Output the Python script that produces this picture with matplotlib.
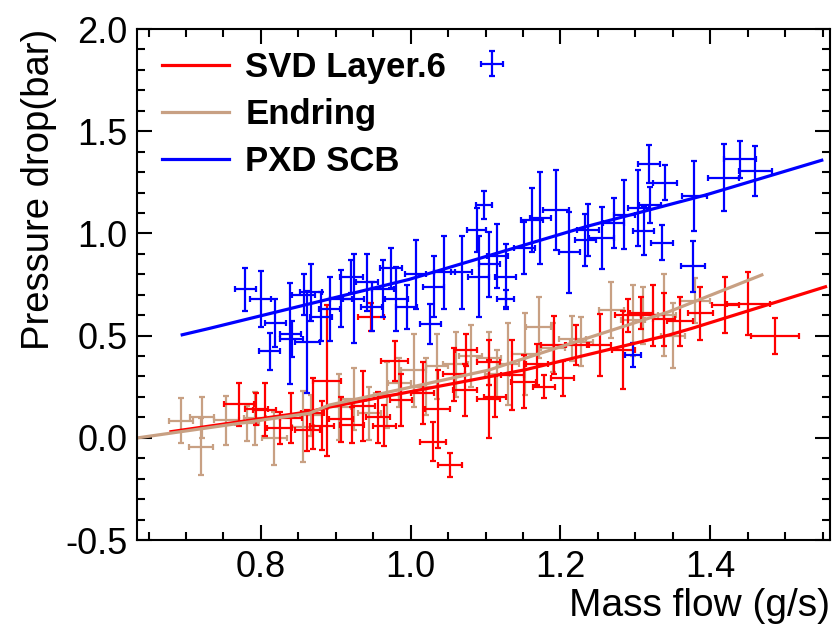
import matplotlib
matplotlib.use('Agg')
import matplotlib.pyplot as plt
from matplotlib.ticker import MultipleLocator
from matplotlib.legend_handler import HandlerErrorbar

plt.rcParams['font.family'] = ['Liberation Sans', 'DejaVu Sans']

# SVD Layer.6 (red)
svd_x = [0.771, 0.794, 0.805, 0.825, 0.840, 0.862, 0.869, 0.882, 0.888, 0.907,
         0.922, 0.937, 0.947, 0.956, 0.965, 0.979, 0.987, 1.016, 1.030, 1.036,
         1.053, 1.058, 1.072, 1.074, 1.104, 1.104, 1.113, 1.136, 1.151, 1.169,
         1.178, 1.191, 1.203, 1.221, 1.253, 1.284, 1.290, 1.308, 1.323, 1.338,
         1.360, 1.387, 1.420, 1.451, 1.487]
svd_y = [0.164, 0.140, 0.138, 0.048, 0.097, 0.037, 0.120, 0.060, 0.280, 0.090,
         0.063, 0.155, 0.592, 0.100, 0.060, 0.376, 0.185, 0.220, -0.019, 0.140,
         -0.133, 0.310, 0.235, 0.429, 0.190, 0.370, 0.200, 0.307, 0.275, 0.360,
         0.250, 0.454, 0.291, 0.454, 0.454, 0.430, 0.600, 0.610, 0.600, 0.580,
         0.570, 0.610, 0.650, 0.657, 0.498]
svd_xerr = [0.020, 0.015, 0.015, 0.017, 0.015, 0.017, 0.015, 0.016, 0.019, 0.016,
            0.016, 0.015, 0.017, 0.016, 0.015, 0.018, 0.015, 0.015, 0.017, 0.017,
            0.016, 0.015, 0.016, 0.015, 0.015, 0.015, 0.015, 0.015, 0.017, 0.015,
            0.015, 0.017, 0.015, 0.015, 0.015, 0.015, 0.017, 0.015, 0.015, 0.015,
            0.017, 0.017, 0.018, 0.029, 0.032]
svd_yerr = [0.106, 0.077, 0.130, 0.077, 0.120, 0.100, 0.175, 0.120, 0.370, 0.110,
            0.086, 0.170, 0.069, 0.125, 0.100, 0.098, 0.125, 0.150, 0.094, 0.190,
            0.061, 0.130, 0.126, 0.080, 0.190, 0.110, 0.100, 0.170, 0.130, 0.100,
            0.057, 0.140, 0.085, 0.100, 0.150, 0.190, 0.080, 0.080, 0.150, 0.130,
            0.120, 0.130, 0.135, 0.155, 0.090]

# Endring (tan)
end_x = [0.694, 0.722, 0.720, 0.754, 0.782, 0.792, 0.818, 0.856, 0.867, 0.905,
         0.924, 0.945, 0.968, 0.985, 1.004, 1.020, 1.035, 1.060, 1.080, 1.105,
         1.115, 1.130, 1.153, 1.171, 1.190, 1.216, 1.228, 1.268, 1.297, 1.310,
         1.338, 1.350, 1.380]
end_y = [0.084, 0.100, -0.044, 0.087, 0.071, 0.095, -0.002, 0.055, 0.110, 0.150,
         0.190, 0.120, 0.210, 0.270, 0.330, 0.250, 0.350, 0.360, 0.400, 0.390,
         0.310, 0.360, 0.410, 0.540, 0.440, 0.485, 0.470, 0.625, 0.575, 0.600,
         0.600, 0.500, 0.670]
end_xerr = [0.016, 0.016, 0.016, 0.017, 0.016, 0.015, 0.017, 0.015, 0.015, 0.015,
            0.017, 0.015, 0.017, 0.015, 0.017, 0.016, 0.015, 0.017, 0.015, 0.016,
            0.016, 0.015, 0.018, 0.017, 0.016, 0.018, 0.015, 0.017, 0.016, 0.020,
            0.016, 0.016, 0.020]
end_yerr = [0.110, 0.100, 0.139, 0.120, 0.085, 0.130, 0.130, 0.175, 0.100, 0.160,
            0.150, 0.130, 0.160, 0.120, 0.180, 0.140, 0.160, 0.160, 0.150, 0.130,
            0.120, 0.200, 0.200, 0.150, 0.120, 0.110, 0.120, 0.135, 0.175, 0.140,
            0.200, 0.160, 0.110]

# PXD SCB (blue)
pxd_x = [0.779, 0.800, 0.812, 0.819, 0.839, 0.841, 0.857, 0.862, 0.867, 0.880,
         0.892, 0.907, 0.921, 0.924, 0.942, 0.948, 0.963, 0.974, 0.981, 0.995,
         1.007, 1.026, 1.031, 1.045, 1.068, 1.088, 1.091, 1.098, 1.105, 1.116,
         1.127, 1.127, 1.152, 1.162, 1.173, 1.194, 1.212, 1.233, 1.237, 1.255,
         1.271, 1.285, 1.304, 1.311, 1.318, 1.320, 1.340, 1.336, 1.379, 1.377,
         1.418, 1.440, 1.460, 1.297]
pxd_y = [0.727, 0.678, 0.423, 0.563, 0.510, 0.484, 0.701, 0.470, 0.711, 0.593,
         0.632, 0.681, 0.789, 0.681, 0.760, 0.642, 0.730, 0.829, 0.681, 0.642,
         0.799, 0.557, 0.740, 0.809, 0.809, 1.016, 0.789, 1.140, 0.848, 0.888,
         0.681, 0.789, 0.927, 1.065, 1.075, 1.114, 0.907, 0.967, 1.016, 0.978,
         1.051, 1.092, 1.124, 1.010, 1.338, 1.139, 1.249, 0.955, 1.182, 0.839,
         1.273, 1.362, 1.307, 0.406]
pxd_xerr = [0.014, 0.014, 0.014, 0.014, 0.014, 0.015, 0.015, 0.017, 0.015, 0.015,
            0.014, 0.015, 0.015, 0.014, 0.015, 0.014, 0.015, 0.015, 0.015, 0.014,
            0.014, 0.014, 0.014, 0.014, 0.014, 0.013, 0.014, 0.011, 0.014, 0.014,
            0.011, 0.014, 0.014, 0.015, 0.014, 0.017, 0.014, 0.014, 0.015, 0.017,
            0.014, 0.014, 0.014, 0.014, 0.015, 0.015, 0.016, 0.015, 0.017, 0.016,
            0.021, 0.021, 0.022, 0.011]
pxd_yerr = [0.106, 0.136, 0.089, 0.118, 0.245, 0.089, 0.098, 0.250, 0.138, 0.118,
            0.157, 0.138, 0.080, 0.217, 0.138, 0.118, 0.138, 0.098, 0.157, 0.108,
            0.167, 0.098, 0.148, 0.177, 0.177, 0.108, 0.197, 0.069, 0.157, 0.157,
            0.040, 0.157, 0.128, 0.157, 0.226, 0.197, 0.197, 0.128, 0.128, 0.150,
            0.120, 0.170, 0.187, 0.118, 0.093, 0.090, 0.087, 0.087, 0.170, 0.126,
            0.163, 0.092, 0.122, 0.059]

# fit curves
svd_fit_x = [0.68, 0.865, 0.891, 1.105, 1.153, 1.345, 1.376, 1.554]
svd_fit_y = [0.03, 0.128, 0.150, 0.299, 0.333, 0.503, 0.536, 0.739]
end_fit_x = [0.636, 0.865, 0.891, 1.105, 1.118, 1.318, 1.345, 1.469]
end_fit_y = [0.0, 0.120, 0.160, 0.332, 0.348, 0.585, 0.617, 0.797]
pxd_fit_x = [0.695, 0.731, 0.998, 1.234, 1.394, 1.549]
pxd_fit_y = [0.504, 0.535, 0.775, 1.033, 1.188, 1.358]

red = '#ff0000'
tan = '#c8a083'
blue = '#0000ff'

fig = plt.figure(figsize=(8.34, 6.28), dpi=100)
ax = fig.add_axes([0.1646, 0.1401, 0.8306, 0.8137])

eb = dict(fmt='none', elinewidth=1.6, capsize=2, capthick=1.6)
ax.errorbar(end_x, end_y, xerr=end_xerr, yerr=end_yerr, ecolor=tan, **eb)
ax.errorbar(svd_x, svd_y, xerr=svd_xerr, yerr=svd_yerr, ecolor=red, **eb)
pxd_eb = ax.errorbar(pxd_x, pxd_y, xerr=pxd_xerr, yerr=pxd_yerr, ecolor=blue, **eb)

l1, = ax.plot(svd_fit_x, svd_fit_y, color=red, lw=2.3)
l2, = ax.plot(end_fit_x, end_fit_y, color=tan, lw=2.3)
l3, = ax.plot(pxd_fit_x, pxd_fit_y, color=blue, lw=2.3)

ax.set_xlim(0.635, 1.56)
ax.set_ylim(-0.5, 2.0)
ax.xaxis.set_major_locator(MultipleLocator(0.2))
ax.xaxis.set_minor_locator(MultipleLocator(0.05))
ax.yaxis.set_major_locator(MultipleLocator(0.5))
ax.yaxis.set_minor_locator(MultipleLocator(0.1))
ax.xaxis.set_major_formatter(plt.FormatStrFormatter('%.1f'))
ax.yaxis.set_major_formatter(plt.FormatStrFormatter('%.1f'))
ax.tick_params(which='both', direction='in', top=True, right=True, width=1.5)
ax.tick_params(which='major', length=11, labelsize=26)
ax.tick_params(which='minor', length=5.5)
ax.tick_params(axis='x', pad=7)
ax.tick_params(axis='y', pad=7)
for s in ax.spines.values():
    s.set_linewidth(1.5)

ax.set_xlabel('Mass flow (g/s)', fontsize=28, loc='right', labelpad=2)
ax.set_ylabel('Pressure drop(bar)', fontsize=27.5, loc='top', labelpad=6)

leg = ax.legend([l1, l2, l3], ['SVD Layer.6', 'Endring', 'PXD SCB'],
                loc='upper left', bbox_to_anchor=(0.036, 0.957), frameon=False,
                prop={'weight': 'bold', 'size': 25}, handlelength=1.93,
                handletextpad=0.46, labelspacing=0.41, borderpad=0, borderaxespad=0)
ax.add_artist(leg)
ax.legend([pxd_eb], [''], loc='center', bbox_to_anchor=(0.512, 0.93),
          frameon=False, handlelength=1.0, handletextpad=0, borderpad=0,
          handler_map={type(pxd_eb): HandlerErrorbar(xerr_size=0.76, yerr_size=0.9)})

fig.savefig('out.png', dpi=100)
